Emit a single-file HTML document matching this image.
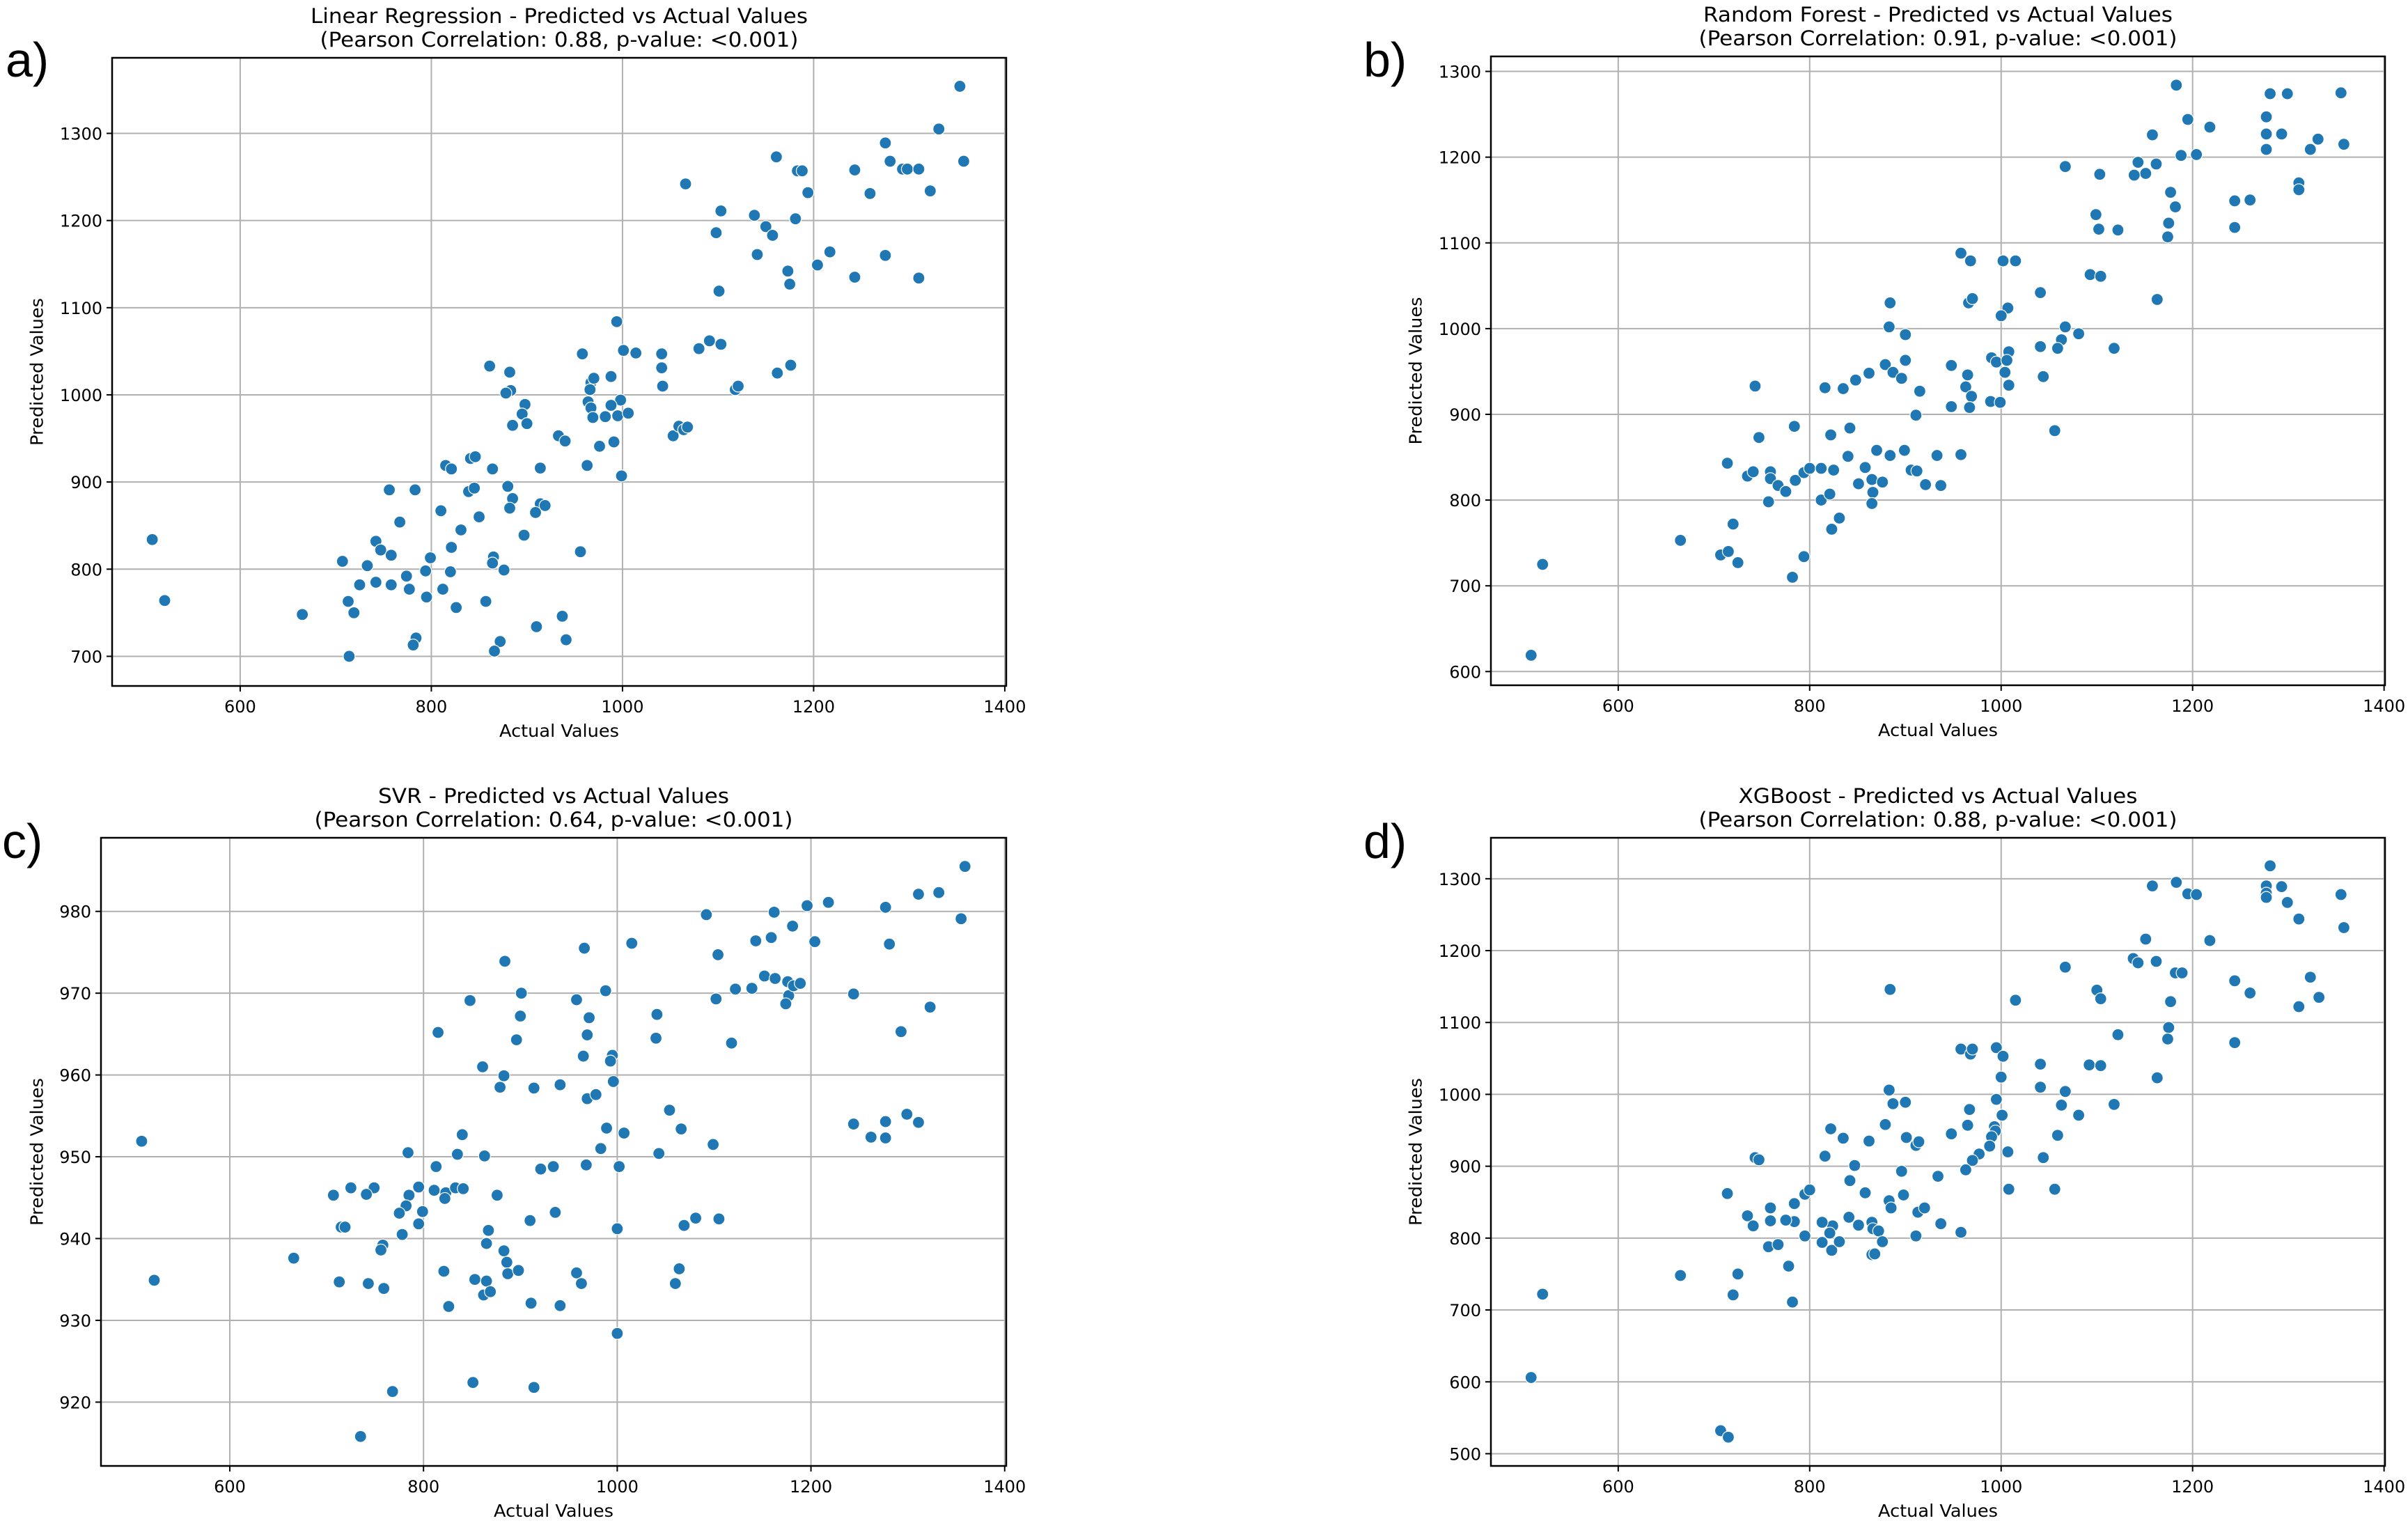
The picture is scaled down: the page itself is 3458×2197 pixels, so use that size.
<!DOCTYPE html>
<html><head><meta charset="utf-8"><style>
html,body{margin:0;padding:0;background:#fff}
svg{display:block}
text{font-family:"DejaVu Sans","Liberation Sans",sans-serif;fill:#000}
.pl{font-family:"Liberation Sans",sans-serif}
</style></head><body>
<svg id="fig" width="3458" height="2197" viewBox="0 0 3458 2197" xmlns="http://www.w3.org/2000/svg"></svg>
<script>
const xTicks = [600, 800, 1000, 1200, 1400];
const aTicksY = [700, 800, 900, 1000, 1100, 1200, 1300];
const bTicksY = [600, 700, 800, 900, 1000, 1100, 1200, 1300];
const cTicksY = [920, 930, 940, 950, 960, 970, 980];
const dTicksY = [500, 600, 700, 800, 900, 1000, 1100, 1200, 1300];

const aActual = [1353,1331,1357,1275,1280,1293,1298,1310,1322,1259,1243,1161,1183,1188,1194,1066,1103,1138,1150,1157,1181,1098,1141,1173,1175,1204,1217,1275,1243,1310,1101,994,1091,1103,1080,1001,1014,958,1041,1041,1042,1118,1121,1162,1176,861,882,883,878,967,970,966,988,964,967,998,988,969,982,995,1006,898,895,900,885,1053,1059,1064,1068,933,940,991,976,963,999,815,821,841,846,864,914,756,783,839,845,880,885,882,914,919,909,767,810,831,850,897,956,742,747,758,707,733,799,821,865,864,876,794,820,774,777,758,742,725,812,795,713,719,826,857,665,521,508,784,781,872,866,714,910,937,941];
const aPred = [1354,1305,1268,1289,1268,1259,1259,1259,1234,1231,1258,1273,1257,1257,1232,1242,1211,1206,1193,1183,1202,1186,1161,1142,1127,1149,1164,1160,1135,1134,1119,1084,1062,1058,1053,1051,1048,1047,1047,1031,1010,1006,1010,1025,1034,1033,1026,1005,1002,1014,1019,1006,1021,992,985,994,988,974,975,976,979,989,978,967,965,953,964,960,963,953,947,946,941,919,907,919,915,927,929,915,916,891,891,889,893,895,881,870,875,873,865,854,867,845,860,839,820,832,822,816,809,804,813,825,814,807,799,798,797,792,777,782,785,782,777,768,763,750,756,763,748,764,834,721,713,717,706,700,734,746,719];

const bActual = [1355,1281,1299,1183,1277,1277,1293,1277,1323,1331,1358,1195,1218,1204,1188,1158,1143,1162,1151,1139,1103,1067,1311,1311,1244,1260,1244,1177,1182,1175,1174,1099,1102,1122,1093,1104,958,968,1002,1015,1041,1163,884,966,970,1007,1000,1067,1063,1059,1041,1081,1118,883,900,1008,990,995,1006,948,900,879,887,896,862,848,1004,965,1008,1044,963,969,989,999,948,967,915,816,835,743,911,1056,784,747,822,842,870,884,899,933,958,714,735,741,759,759,767,775,785,794,800,812,825,858,840,906,912,851,865,876,866,865,921,937,757,812,821,831,823,720,665,707,715,725,794,782,521,509];
const bPred = [1275,1274,1274,1284,1247,1227,1227,1209,1209,1221,1215,1244,1235,1203,1202,1226,1194,1192,1181,1179,1180,1189,1170,1162,1149,1150,1118,1159,1142,1123,1107,1133,1116,1115,1063,1061,1088,1079,1079,1079,1042,1034,1030,1030,1035,1024,1015,1002,987,977,979,994,977,1002,993,973,966,961,963,957,963,958,949,942,948,940,949,946,934,944,932,921,915,914,909,908,927,931,930,933,899,881,886,873,876,884,858,852,858,852,853,843,828,833,833,825,817,810,823,832,837,837,835,838,851,835,834,819,824,821,809,796,818,817,798,800,807,779,766,772,753,736,740,727,734,710,725,619];

const cActual = [1359,1311,1332,1092,1162,1196,1218,1277,1355,1181,1143,1159,1204,1281,966,1015,884,1104,1152,1163,1176,1177,1174,1182,1189,1122,1139,1102,1244,1323,1293,1118,988,958,901,900,848,971,969,1041,1040,815,896,965,995,993,861,883,879,914,941,996,969,978,1054,989,1007,1066,1244,1262,1277,1277,1299,1311,509,840,784,835,863,983,1043,1099,813,921,934,968,1002,707,725,749,795,811,823,833,841,876,785,741,822,782,799,775,936,795,778,910,867,1000,1069,1081,1105,715,719,758,756,666,865,883,886,887,898,821,853,865,862,869,958,963,1064,1060,713,743,759,522,826,911,941,1000,851,914,768,735];
const cPred = [985.5,982.1,982.3,979.6,979.9,980.7,981.1,980.5,979.1,978.2,976.4,976.8,976.3,976.0,975.5,976.1,973.9,974.7,972.1,971.8,971.4,969.7,968.7,970.9,971.2,970.5,970.6,969.3,969.9,968.3,965.3,963.9,970.3,969.2,970.0,967.2,969.1,967.0,964.9,967.4,964.5,965.2,964.3,962.3,962.4,961.7,961.0,959.9,958.5,958.4,958.8,959.2,957.1,957.6,955.7,953.5,952.9,953.4,954.0,952.4,954.3,952.3,955.2,954.2,951.9,952.7,950.5,950.3,950.1,951.0,950.4,951.5,948.8,948.5,948.8,949.0,948.8,945.3,946.2,946.2,946.3,945.9,945.6,946.2,946.1,945.3,945.3,945.4,944.9,944.0,943.3,943.1,943.2,941.8,940.5,942.2,941.0,941.2,941.6,942.5,942.4,941.4,941.4,939.2,938.6,937.6,939.4,938.5,937.1,935.7,936.1,936.0,935.0,934.8,933.1,933.5,935.8,934.5,936.3,934.5,934.7,934.5,933.9,934.9,931.7,932.1,931.8,928.4,922.4,921.8,921.3,915.8];

const dActual = [1281,1277,1277,1277,1293,1299,1311,1355,1358,1158,1183,1195,1204,1151,1218,1138,1143,1162,1067,1182,1189,1244,1323,1260,1311,1332,1100,1104,884,1015,1177,1175,1174,1244,1122,958,968,970,995,1002,1041,1092,1104,1163,1000,1041,1067,1063,1118,1081,883,887,900,995,967,1001,965,993,994,948,990,879,822,901,911,914,835,862,988,977,970,1007,1059,1044,743,747,816,847,963,896,934,842,858,1056,1008,714,795,800,898,784,784,883,885,913,920,759,759,775,735,741,841,824,851,865,866,872,813,937,958,821,823,813,831,876,865,868,911,757,767,795,778,725,665,720,521,782,509,707,715];
const dPred = [1318,1290,1280,1274,1289,1267,1244,1278,1232,1290,1295,1279,1278,1216,1214,1189,1183,1185,1177,1169,1169,1158,1163,1141,1122,1135,1145,1133,1146,1131,1129,1093,1077,1072,1083,1063,1056,1063,1065,1053,1042,1041,1040,1023,1024,1010,1004,985,986,971,1006,987,989,993,979,971,957,955,949,945,941,958,952,940,929,934,939,935,928,917,908,920,943,912,912,909,914,901,895,893,886,880,863,868,868,862,861,867,860,848,823,852,842,836,842,842,824,825,831,817,829,817,818,822,813,810,822,820,808,807,783,794,795,795,777,778,803,788,791,803,761,750,748,721,722,711,606,532,523];

const NS = "http://www.w3.org/2000/svg";
const svg = document.getElementById('fig');
function el(tag, attrs, parent) {
  const e = document.createElementNS(NS, tag);
  for (const k in attrs) e.setAttribute(k, attrs[k]);
  (parent || svg).appendChild(e);
  return e;
}

const panels = [
  {id:'a', L:161, R:1445, T:83, B:985, xd:[466,1401.5], yd:[666,1386.7], yt:aTicksY, xs:aActual, ys:aPred, ylx:53, lblx:8, lbly:110,
   t1:'Linear Regression - Predicted vs Actual Values', t1w:714, t2:'(Pearson Correlation: 0.88, p-value: <0.001)'},
  {id:'b', L:2141, R:3425, T:81, B:984, xd:[467,1401], yd:[584,1317.5], yt:bTicksY, xs:bActual, ys:bPred, ylx:2033, lblx:1958, lbly:110,
   t1:'Random Forest - Predicted vs Actual Values', t1w:674, t2:'(Pearson Correlation: 0.91, p-value: <0.001)'},
  {id:'c', L:145, R:1445, T:1203, B:2105, xd:[467,1401.6], yd:[912.2,989], yt:cTicksY, xs:cActual, ys:cPred, ylx:53, lblx:3, lbly:1232,
   t1:'SVR - Predicted vs Actual Values', t1w:504, t2:'(Pearson Correlation: 0.64, p-value: <0.001)'},
  {id:'d', L:2141, R:3425, T:1203, B:2105, xd:[467,1401], yd:[483,1357], yt:dTicksY, xs:dActual, ys:dPred, ylx:2033, lblx:1958, lbly:1232,
   t1:'XGBoost - Predicted vs Actual Values', t1w:573, t2:'(Pearson Correlation: 0.88, p-value: <0.001)'}
];

panels.forEach(p => {
  const g = el('g', {});
  
  
  const sx = v => p.L + (v - p.xd[0]) / (p.xd[1] - p.xd[0]) * (p.R - p.L);
  const sy = v => p.B - (v - p.yd[0]) / (p.yd[1] - p.yd[0]) * (p.B - p.T);
  const cx = (p.L + p.R) / 2;

  const lbl = el('text', {x:p.lblx, y:p.lbly, class:'pl', 'font-size':70}, g);
  lbl.textContent = p.id + ')';
  
  

  const t1 = el('text', {x:cx, y:p.T - 50, 'text-anchor':'middle', 'font-size':29, textLength:p.t1w, lengthAdjust:'spacingAndGlyphs'}, g);
  t1.textContent = p.t1;
  
  
  const t2 = el('text', {x:cx, y:p.T - 16, 'text-anchor':'middle', 'font-size':29, textLength:687, lengthAdjust:'spacingAndGlyphs'}, g);
  t2.textContent = p.t2;
  
  

  el('rect', {x:p.L, y:p.T, width:p.R - p.L, height:p.B - p.T, fill:'#fff'}, g);

  xTicks.forEach(v => {
    const x = sx(v);
    const gl = el('line', {x1:x, x2:x, y1:p.T, y2:p.B, stroke:'#b0b0b0', 'stroke-width':2}, g);
    
    
    el('line', {x1:x, x2:x, y1:p.B, y2:p.B + 8, stroke:'#000', 'stroke-width':2}, g);
    const tl = el('text', {x:x, y:p.B + 38, 'text-anchor':'middle', 'font-size':24}, g);
    tl.textContent = v;
    
    
  });
  p.yt.forEach(v => {
    const y = sy(v);
    const gl = el('line', {x1:p.L, x2:p.R, y1:y, y2:y, stroke:'#b0b0b0', 'stroke-width':2}, g);
    
    
    el('line', {x1:p.L - 8, x2:p.L, y1:y, y2:y, stroke:'#000', 'stroke-width':2}, g);
    const tl = el('text', {x:p.L - 14, y:y + 9, 'text-anchor':'end', 'font-size':24}, g);
    tl.textContent = v;
    
    
  });

  const n = Math.min(p.xs.length, p.ys.length);
  for (let i = 0; i < n; i++) {
    const c = el('circle', {cx:sx(p.xs[i]), cy:sy(p.ys[i]), r:8.5, fill:'#1f77b4', stroke:'#fff', 'stroke-width':1.2}, g);
    
    
  }

  const fr = el('rect', {x:p.L, y:p.T, width:p.R - p.L, height:p.B - p.T, fill:'none', stroke:'#000', 'stroke-width':2.5}, g);
  
  

  const xl = el('text', {x:cx, y:p.B + 73, 'text-anchor':'middle', 'font-size':25, textLength:172, lengthAdjust:'spacingAndGlyphs'}, g);
  xl.textContent = 'Actual Values';
  
  
  const ymid = (p.T + p.B) / 2;
  const yl = el('text', {x:p.ylx, y:ymid, 'text-anchor':'middle', 'dominant-baseline':'central', 'font-size':25, textLength:212, lengthAdjust:'spacingAndGlyphs', transform:'rotate(-90 ' + p.ylx + ' ' + ymid + ')'}, g);
  yl.textContent = 'Predicted Values';
  
  
});
</script>
</body></html>
